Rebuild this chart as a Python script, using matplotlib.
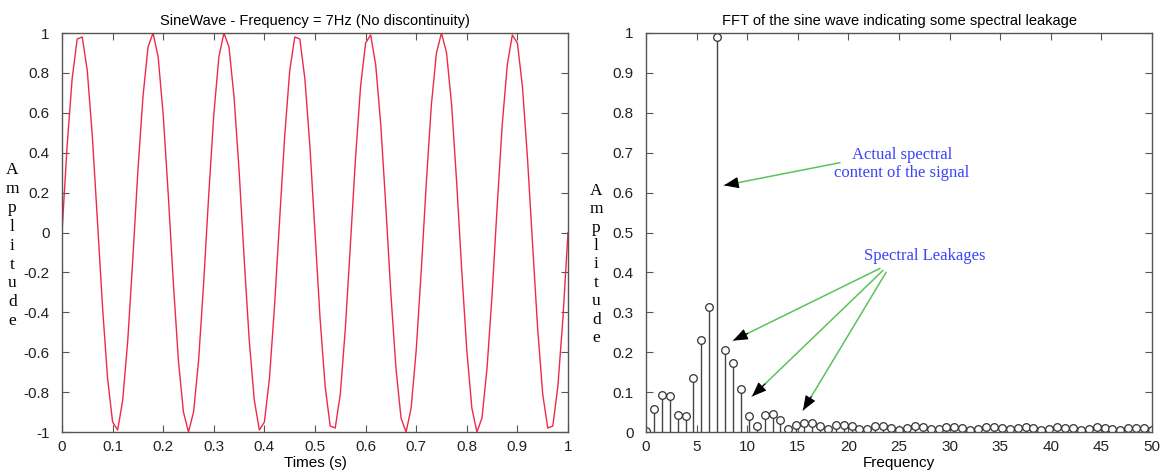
import numpy as np
import matplotlib
matplotlib.use("Agg")
import matplotlib.pyplot as plt
from matplotlib.ticker import FuncFormatter

plt.rcParams['font.family'] = ['Liberation Sans', 'DejaVu Sans']
plt.rcParams['axes.unicode_minus'] = False

# sine wave samples (7 Hz, 100 samples/s)
amplitude = [
    0.00, 0.43, 0.77, 0.97, 0.98, 0.81, 0.48, 0.06, -0.37, -0.73,
    -0.95, -0.99, -0.84, -0.54, -0.13, 0.31, 0.68, 0.93, 1.00, 0.88,
    0.59, 0.19, -0.25, -0.64, -0.90, -1.00, -0.90, -0.64, -0.25, 0.19,
    0.59, 0.88, 1.00, 0.93, 0.68, 0.31, -0.13, -0.54, -0.84, -0.99,
    -0.95, -0.73, -0.37, 0.06, 0.48, 0.81, 0.98, 0.97, 0.77, 0.43,
    0.00, -0.43, -0.77, -0.97, -0.98, -0.81, -0.48, -0.06, 0.37, 0.73,
    0.95, 0.99, 0.84, 0.54, 0.13, -0.31, -0.68, -0.93, -1.00, -0.88,
    -0.59, -0.19, 0.25, 0.64, 0.90, 1.00, 0.90, 0.64, 0.25, -0.19,
    -0.59, -0.88, -1.00, -0.93, -0.68, -0.31, 0.13, 0.54, 0.84, 0.99,
    0.95, 0.73, 0.37, -0.06, -0.48, -0.81, -0.98, -0.97, -0.77, -0.43,
    0.00,
]
times = np.linspace(0, 1, len(amplitude))

# FFT magnitude, bins 0..50 Hz
fft_mag = [
    0.002, 0.057, 0.093, 0.089, 0.043, 0.039, 0.135, 0.230, 0.314, 0.990,
    0.205, 0.173, 0.107, 0.040, 0.015, 0.042, 0.044, 0.029, 0.008, 0.017,
    0.023, 0.022, 0.014, 0.008, 0.017, 0.018, 0.016, 0.008, 0.008, 0.014,
    0.015, 0.010, 0.004, 0.010, 0.014, 0.013, 0.008, 0.008, 0.012, 0.013,
    0.010, 0.004, 0.008, 0.012, 0.012, 0.009, 0.007, 0.010, 0.012, 0.010,
    0.005, 0.008, 0.012, 0.011, 0.009, 0.005, 0.008, 0.012, 0.011, 0.008,
    0.006, 0.009, 0.011, 0.009, 0.004,
]
freqs = np.linspace(0, 50, len(fft_mag))

fig = plt.figure(figsize=(11.65, 4.72), dpi=100)
ax1 = fig.add_axes([62/1165, 40/472, 506/1165, 399/472])
ax2 = fig.add_axes([646/1165, 40/472, 506/1165, 399/472])


def tick_fmt(v, p):
    v = round(v, 2)
    if abs(v) < 1e-9:
        return '0'
    return '%g' % v


fmt = FuncFormatter(tick_fmt)
spine_col = '#555555'

for ax in (ax1, ax2):
    ax.tick_params(direction='in', length=5, width=0.8, color=spine_col,
                   top=True, right=True, labelsize=11, colors='#222222')
    ax.tick_params(axis='y', pad=9)
    ax.tick_params(axis='x', pad=6)
    for s in ax.spines.values():
        s.set_color(spine_col)
        s.set_linewidth(1)
    ax.xaxis.set_major_formatter(fmt)
    ax.yaxis.set_major_formatter(fmt)

ylab = '\n'.join('Amplitude')

# left: sine wave
ax1.plot(times, amplitude, color='#f0284a', lw=1)
ax1.set_xlim(0, 1)
ax1.set_ylim(-1, 1)
ax1.set_xticks(np.arange(0, 1.01, 0.1))
ax1.set_yticks(np.arange(-1, 1.01, 0.2))
ax1.set_title('SineWave - Frequency = 7Hz (No discontinuity)', fontsize=10.5, pad=6)
ax1.set_xlabel('Times (s)', fontsize=11, labelpad=1)
ax1.text(-0.098, 0.467, ylab, transform=ax1.transAxes, ha='center', va='center',
         family='Liberation Serif', fontsize=12.5, linespacing=1.24)

# right: FFT
ml, sl, bl = ax2.stem(freqs, fft_mag, basefmt=' ')
plt.setp(sl, color='#444444', lw=1)
plt.setp(ml, marker='o', markersize=5.5, markerfacecolor='white',
         markeredgecolor='#333333', markeredgewidth=0.9)
ax2.set_xlim(0, 50)
ax2.set_ylim(0, 1)
ax2.set_xticks(np.arange(0, 51, 5))
ax2.set_yticks(np.arange(0, 1.01, 0.1))
ax2.set_title('FFT of the sine wave indicating some spectral leakage', fontsize=10.5, pad=6)
ax2.set_xlabel('Frequency', fontsize=11, labelpad=1)
ax2.text(-0.098, 0.42, ylab, transform=ax2.transAxes, ha='center', va='center',
         family='Liberation Serif', fontsize=12.5, linespacing=1.2)

green = '#5cc25c'
blue = '#3a44f8'


def arrow(ax, start, tip):
    ax.annotate('', xy=tip, xytext=start,
                arrowprops=dict(arrowstyle='-', color=green, lw=1.1,
                                shrinkA=0, shrinkB=0))
    mid = (tip[0] + 0.1 * (start[0] - tip[0]), tip[1] + 0.1 * (start[1] - tip[1]))
    ax.annotate('', xy=tip, xytext=mid,
                arrowprops=dict(arrowstyle='-|>,head_length=0.9,head_width=0.35',
                                color='black', lw=0.8, mutation_scale=10,
                                shrinkA=0, shrinkB=0))


ax2.text(25.3, 0.672, 'Actual spectral\ncontent of the signal', color=blue,
         family='Liberation Serif', fontsize=12, ha='center', va='center',
         linespacing=1.15)
arrow(ax2, (19.17, 0.675), (7.71, 0.618))

ax2.text(27.57, 0.442, 'Spectral Leakages', color=blue,
         family='Liberation Serif', fontsize=12, ha='center', va='center')
arrow(ax2, (23.12, 0.41), (8.6, 0.229))
arrow(ax2, (23.42, 0.405), (10.47, 0.089))
arrow(ax2, (23.72, 0.40), (15.51, 0.054))

plt.savefig('out.png', dpi=100)
